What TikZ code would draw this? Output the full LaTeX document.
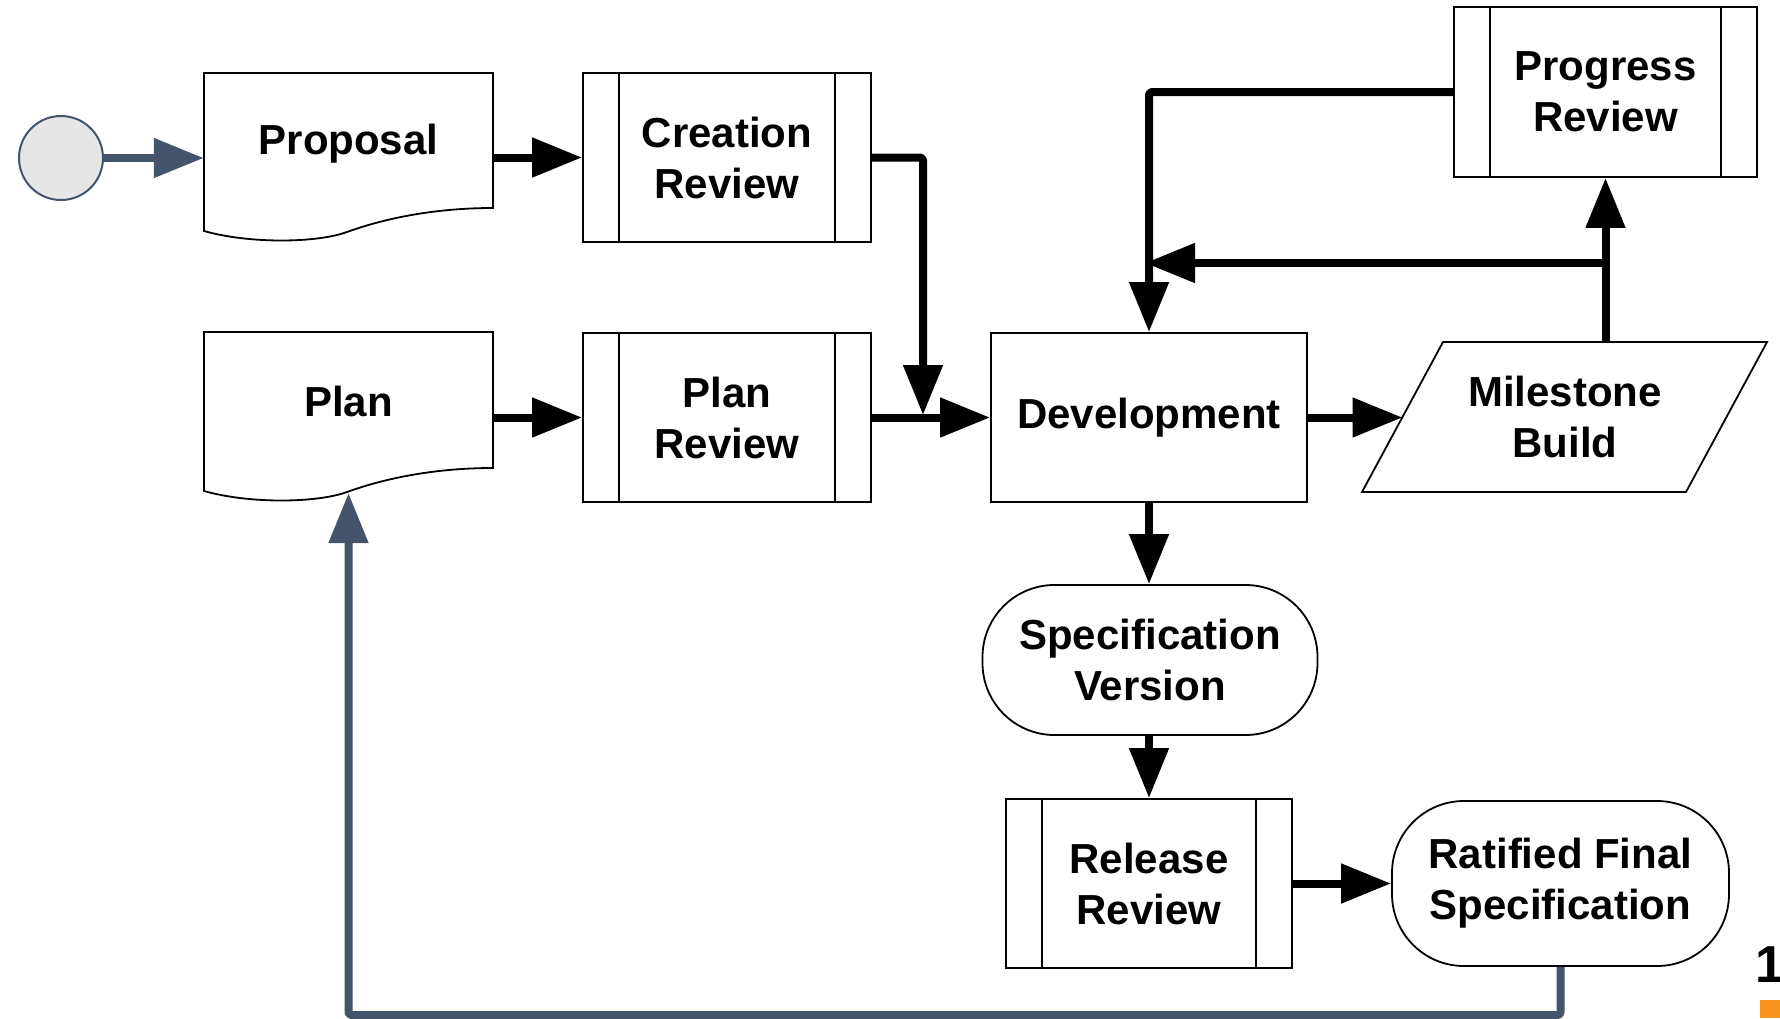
\documentclass[tikz,border=0pt]{standalone}
\usepackage{fontspec}
\setmainfont{Liberation Sans}
\usetikzlibrary{arrows.meta,calc}
\definecolor{slate}{HTML}{44546A}
\definecolor{startfill}{HTML}{E6E6E6}
\definecolor{orangeacc}{HTML}{F7941E}
\tikzset{
  lbl/.style={font=\fontsize{42}{51}\selectfont\bfseries, align=center, inner sep=0pt},
  outline/.style={draw=black, line width=1.8pt, fill=white},
  proc/.style={outline, lbl, minimum width=288pt, minimum height=169pt,
    path picture={\draw[line width=1.8pt]
      ([xshift=36pt]path picture bounding box.north west) -- ([xshift=36pt]path picture bounding box.south west)
      ([xshift=-36pt]path picture bounding box.north east) -- ([xshift=-36pt]path picture bounding box.south east);}},
  boxnode/.style={outline, lbl, minimum width=316pt, minimum height=169pt},
  term/.style={outline, lbl, rounded corners=72pt, minimum width=336pt, minimum height=150pt},
  arr/.style={draw=black, line width=8pt, line join=round, rounded corners=3pt,
    -{Triangle[length=50pt,width=38pt]}},
  bluearr/.style={draw=slate, line width=8pt, line join=round, rounded corners=3pt,
    -{Triangle[length=50pt,width=38pt]}}
}
\begin{document}
\begin{tikzpicture}[x=1pt,y=-1pt]
\useasboundingbox (0,0) rectangle (1780,1018);

% document shapes
\draw[outline] (204,73) -- (493,73) -- (493,208)
  .. controls (430,208) and (380,220) .. (347,232)
  .. controls (317,243) and (250,244) .. (204,231) -- cycle;
\draw[outline] (204,332) -- (493,332) -- (493,468)
  .. controls (430,468) and (380,480) .. (347,492)
  .. controls (317,503) and (250,504) .. (204,491) -- cycle;

% parallelogram
\draw[outline] (1443,342) -- (1767,342) -- (1686,492) -- (1362,492) -- cycle;

% nodes
\node[circle, draw=slate, fill=startfill, line width=2pt, minimum size=84pt, inner sep=0pt] (start) at (61,158) {};
\node[lbl, minimum width=289pt, minimum height=135pt] (proposal) at (348.5,143.5) {Proposal};
\node[lbl, minimum width=289pt, minimum height=136pt] (plan) at (348.5,401.5) {Plan};
\node[proc] (creation) at (727,157.5) {Creation\\Review};
\node[proc] (planreview) at (727,417.5) {Plan\\Review};
\node[boxnode] (dev) at (1149,417.5) {Development};
\node[lbl] (milestone) at (1565,417) {Milestone\\Build};
\node[proc, minimum width=303pt, minimum height=170pt] (progress) at (1605.5,92) {Progress\\Review};
\node[term, minimum width=335pt] (spec) at (1150,660) {Specification\\Version};
\node[proc, minimum width=286pt] (release) at (1149,883.5) {Release\\Review};
\node[term, minimum width=337pt, minimum height=165pt] (ratified) at (1560.5,883.5) {Ratified Final\\Specification};

% connector end points
\coordinate (join) at (923,415);
\coordinate (msleft) at (1402.5,417.5);
\coordinate (mstop) at (1605.5,342);
\coordinate (branch) at (1605.5,263);
\coordinate (branchend) at (1145,263);
\coordinate (planbot) at (348.5,493);
\coordinate (bottomline) at (0,1015);

% connectors
\draw[bluearr] (start) -- (start -| proposal.west);
\draw[arr] (creation.west -| proposal.east) -- (creation.west);
\draw[arr] (creation.east) -| (join);
\draw[arr] (planreview.west -| plan.east) -- (planreview.west);
\draw[arr] (planreview.east) -- (dev.west);
\draw[arr] (dev.east) -- (msleft);
\draw[arr] (mstop) -- (progress.south);
\draw[arr] (branch) -- (branchend);
\draw[arr] (progress.west) -| (dev.north);
\draw[arr] (dev.south) -- (spec.north -| dev.south);
\draw[arr] (spec.south -| release.north) -- (release.north);
\draw[arr] (release.east) -- (ratified.west);
\draw[bluearr] (ratified.south) |- (bottomline -| planbot) -- (planbot);

% page corner marks
\node[font=\fontsize{52}{60}\selectfont\bfseries, anchor=base west, inner sep=0pt] (pagenum) at (1755,982) {1};
\fill[orangeacc] (1760,1000) rectangle (1780,1018);
\end{tikzpicture}
\end{document}
